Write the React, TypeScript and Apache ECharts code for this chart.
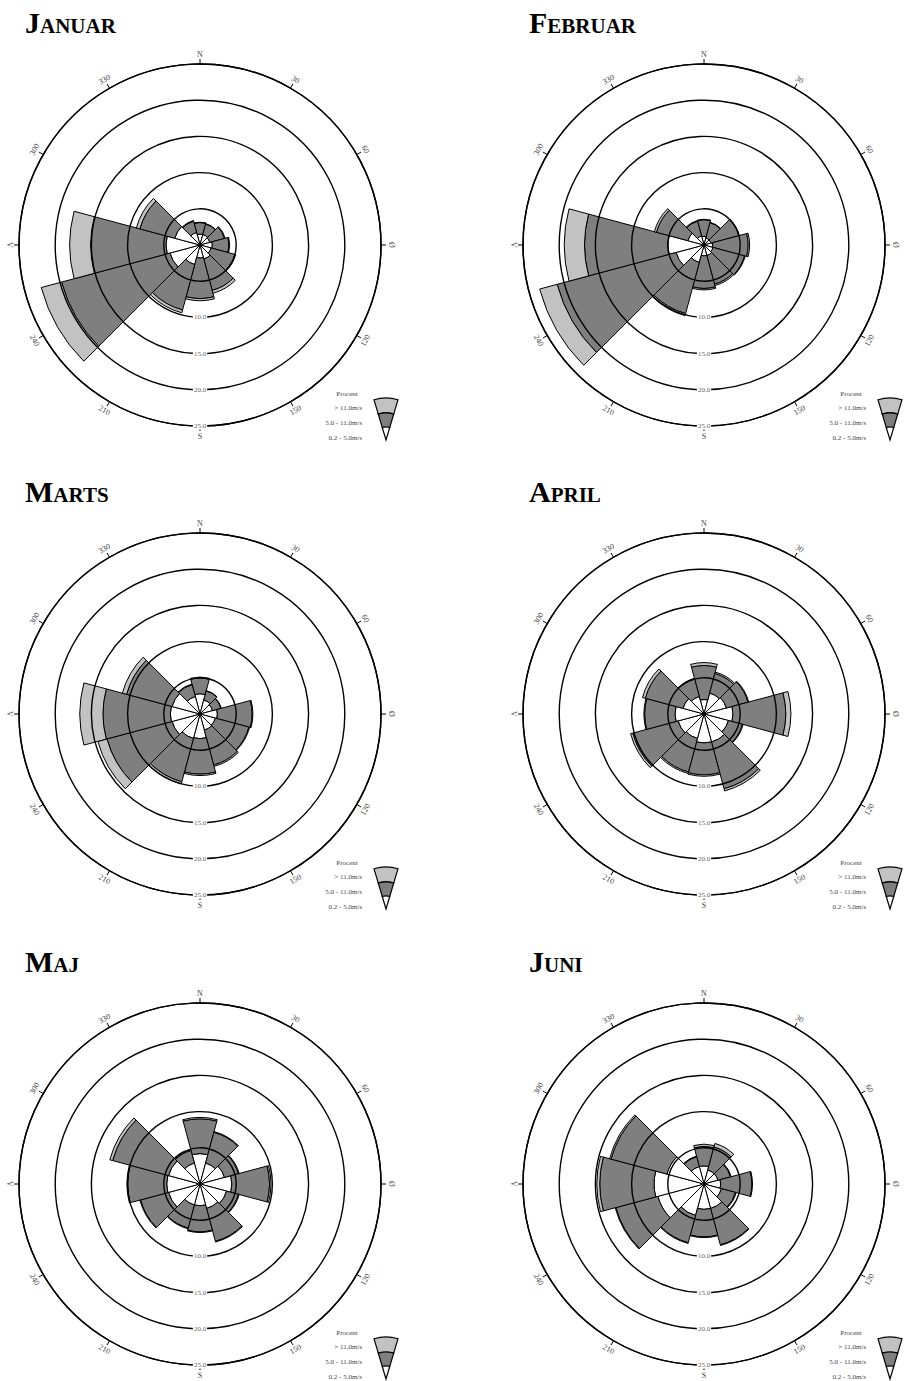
import React, { useEffect, useRef } from "react";
import * as echarts from "echarts";

// ---------- data ----------
const directions = ["N", "30", "60", "Ø", "120", "150", "S", "210", "240", "V", "300", "330"];
const monthTitles: [string, string][] = [
  ["J", "ANUAR"],
  ["F", "EBRUAR"],
  ["M", "ARTS"],
  ["A", "PRIL"],
  ["M", "AJ"],
  ["J", "UNI"],
];
const speedClasses = ["> 11.0m/s", "5.0 - 11.0m/s", "0.2 - 5.0m/s"];
const legendTitle = "Procent";
const ringTicks = [10, 15, 20, 25];
const radiusMax = 25;

// percent per direction, speed class 0.2-5.0 / 5.0-11.0 / >11.0 m/s
const janLow = [1.5, 1.5, 1.4, 1.7, 1.6, 2.0, 1.8, 2.8, 4.3, 4.7, 3.6, 1.8];
const janMid = [1.6, 1.5, 2.1, 2.3, 3.4, 4.5, 5.6, 6.5, 15.5, 10.4, 5.0, 1.6];
const janHigh = [0.05, 0.05, 0.1, 0.1, 0.1, 0.4, 0.3, 0.4, 2.9, 2.9, 0.5, 0.1];

const febLow = [1.2, 1.0, 1.0, 1.2, 1.3, 1.5, 1.5, 2.5, 4.0, 5.0, 2.3, 1.3];
const febMid = [2.3, 2.2, 4.0, 4.9, 4.5, 4.1, 4.5, 7.3, 17.0, 11.5, 4.5, 2.1];
const febHigh = [0.05, 0.05, 0.05, 0.2, 0.1, 0.2, 0.2, 0.3, 2.5, 2.8, 0.3, 0.1];

const marLow = [2.8, 2.0, 1.8, 2.4, 2.2, 2.3, 3.4, 3.5, 4.0, 4.1, 4.0, 2.5];
const marMid = [2.2, 1.3, 1.2, 4.8, 4.8, 5.0, 4.9, 6.2, 9.3, 9.3, 6.5, 1.7];
const marHigh = [0.1, 0.05, 0.05, 0.1, 0.1, 0.2, 0.2, 0.3, 1.3, 3.2, 0.6, 0.1];

const aprLow = [2.0, 3.0, 3.2, 4.0, 3.5, 4.0, 4.0, 3.5, 3.7, 4.0, 3.0, 2.5];
const aprMid = [4.7, 2.8, 3.1, 7.3, 2.0, 6.7, 4.4, 4.8, 6.5, 4.2, 5.4, 2.5];
const aprHigh = [0.4, 0.2, 0.1, 0.7, 0.1, 0.3, 0.2, 0.2, 0.3, 0.1, 0.4, 0.1];

const majLow = [4.2, 3.0, 3.5, 4.4, 3.8, 3.5, 3.0, 3.0, 4.5, 4.6, 4.5, 3.0];
const majMid = [4.8, 4.4, 2.0, 5.2, 1.7, 4.7, 3.6, 3.3, 4.0, 5.4, 8.0, 1.8];
const majHigh = [0.2, 0.1, 0.1, 0.2, 0.1, 0.1, 0.1, 0.1, 0.1, 0.1, 0.4, 0.1];

const junLow = [2.5, 2.0, 2.0, 2.3, 2.5, 3.5, 3.5, 4.5, 6.6, 6.9, 5.3, 2.5];
const junMid = [2.7, 3.3, 1.8, 4.3, 2.0, 5.2, 3.8, 3.9, 6.0, 7.5, 8.0, 1.4];
const junHigh = [0.3, 0.5, 0.1, 0.1, 0.1, 0.1, 0.1, 0.1, 0.1, 0.4, 0.2, 0.1];

// ---------- layout / style ----------
const W = 906;
const H = 1381;
const R = 181;
const panelCenters: [number, number][] = [
  [200, 245],
  [704, 245],
  [200, 714],
  [704, 714],
  [200, 1184],
  [704, 1184],
];
const SERIF = "'Liberation Serif', 'Times New Roman', serif";
const COLOR_LOW = "#ffffff";
const COLOR_MID = "#7f7f7f";
const COLOR_HIGH = "#c2c2c2";

function buildOption() {
  const lows = [janLow, febLow, marLow, aprLow, majLow, junLow];
  const mids = [janMid, febMid, marMid, aprMid, majMid, junMid];
  const highs = [janHigh, febHigh, marHigh, aprHigh, majHigh, junHigh];

  const polar = panelCenters.map(([x, y]) => ({ center: [x, y], radius: R }));
  const angleAxis = panelCenters.map((_, i) => ({
    polarIndex: i,
    type: "category",
    data: directions,
    startAngle: 105,
    clockwise: true,
    z: 5,
    axisLine: { show: true, lineStyle: { color: "#000", width: 1.4 } },
    axisTick: { show: true, alignWithLabel: true, length: 5, lineStyle: { color: "#000", width: 1 } },
    axisLabel: { show: false },
    splitLine: { show: false },
    splitArea: { show: false },
  }));
  const radiusAxis = panelCenters.map((_, i) => ({
    polarIndex: i,
    type: "value",
    min: 0,
    max: radiusMax,
    interval: 5,
    z: 5,
    axisLine: { show: false },
    axisTick: { show: false },
    axisLabel: { show: false },
    splitLine: { show: true, lineStyle: { color: "#000", width: 1.4 } },
    splitArea: { show: false },
  }));

  const series: any[] = [];
  panelCenters.forEach((_, i) => {
    const defs = [
      { name: speedClasses[2], data: lows[i], color: COLOR_LOW },
      { name: speedClasses[1], data: mids[i], color: COLOR_MID },
      { name: speedClasses[0], data: highs[i], color: COLOR_HIGH },
    ];
    defs.forEach((d) => {
      series.push({
        type: "bar",
        name: d.name,
        coordinateSystem: "polar",
        polarIndex: i,
        stack: "m" + i,
        data: d.data,
        barCategoryGap: "0%",
        itemStyle: { color: d.color, borderColor: "#000", borderWidth: 1 },
        emphasis: { disabled: true },
        silent: true,
      });
    });
  });

  const graphic: any[] = [];
  panelCenters.forEach(([cx, cy], i) => {
    // title
    graphic.push({
      type: "text",
      x: cx - 175,
      y: cy - 207.5,
      z: 20,
      style: {
        text: "{a|" + monthTitles[i][0] + "}{b|" + monthTitles[i][1] + "}",
        verticalAlign: "bottom",
        align: "left",
        rich: {
          a: { fontSize: 30, lineHeight: 30, fontFamily: SERIF, fontWeight: "bold", fill: "#000", verticalAlign: "bottom" },
          b: { fontSize: 21, lineHeight: 21, fontFamily: SERIF, fontWeight: "bold", fill: "#000", verticalAlign: "bottom", padding: [0, 0, 1, 0] },
        },
      },
    });
    // direction labels
    directions.forEach((d, k) => {
      const b = k * 30;
      const rad = (b * Math.PI) / 180;
      const rr = R + 10;
      let rot = b;
      if (b > 90 && b <= 270) rot = b - 180;
      else if (b > 270) rot = b - 360;
      graphic.push({
        type: "text",
        x: cx + rr * Math.sin(rad),
        y: cy - rr * Math.cos(rad),
        rotation: (-rot * Math.PI) / 180,
        z: 20,
        style: { text: d, fontSize: 8, fontFamily: SERIF, fill: "#444", align: "center", verticalAlign: "middle" },
      });
    });
    // ring labels
    ringTicks.forEach((v) => {
      graphic.push({
        type: "text",
        x: cx,
        y: cy + (R * v) / radiusMax,
        z: 20,
        style: {
          text: v.toFixed(1),
          fontSize: 7,
          fontFamily: SERIF,
          fill: "#666",
          align: "center",
          verticalAlign: "middle",
          backgroundColor: "#fff",
          padding: [0, 1],
        },
      });
    });
    // legend
    graphic.push({
      type: "text",
      x: cx + 147,
      y: cy + 149,
      z: 20,
      style: { text: legendTitle, fontSize: 7, fontFamily: SERIF, fill: "#444", align: "center", verticalAlign: "middle" },
    });
    speedClasses.forEach((s, j) => {
      graphic.push({
        type: "text",
        x: cx + 162,
        y: cy + 163 + 15 * j,
        z: 20,
        style: { text: s, fontSize: 7, fontFamily: SERIF, fill: "#444", align: "right", verticalAlign: "middle" },
      });
    });
    const ax = cx + 186;
    const ay = cy + 195;
    const half = 0.29;
    const rings = [
      { r0: 27, r: 42, fill: COLOR_HIGH },
      { r0: 13, r: 27, fill: COLOR_MID },
      { r0: 0, r: 13, fill: COLOR_LOW },
    ];
    rings.forEach((g) => {
      graphic.push({
        type: "sector",
        z: 20,
        shape: { cx: ax, cy: ay, r0: g.r0, r: g.r, startAngle: -Math.PI / 2 - half, endAngle: -Math.PI / 2 + half, clockwise: true },
        style: { fill: g.fill, stroke: "#000", lineWidth: 1.2 },
      });
    });
  });

  return {
    animation: false,
    backgroundColor: "#ffffff",
    polar,
    angleAxis,
    radiusAxis,
    series,
    graphic,
  };
}

export default function App() {
  const ref = useRef<HTMLDivElement | null>(null);
  useEffect(() => {
    document.body.style.margin = "0";
    document.body.style.overflow = "hidden";
    if (!ref.current) return;
    const chart = echarts.init(ref.current, null, { renderer: "svg" });
    chart.setOption(buildOption() as any);
    return () => {
      chart.dispose();
    };
  }, []);
  return <div ref={ref} style={{ width: W, height: H, background: "#fff" }} />;
}
